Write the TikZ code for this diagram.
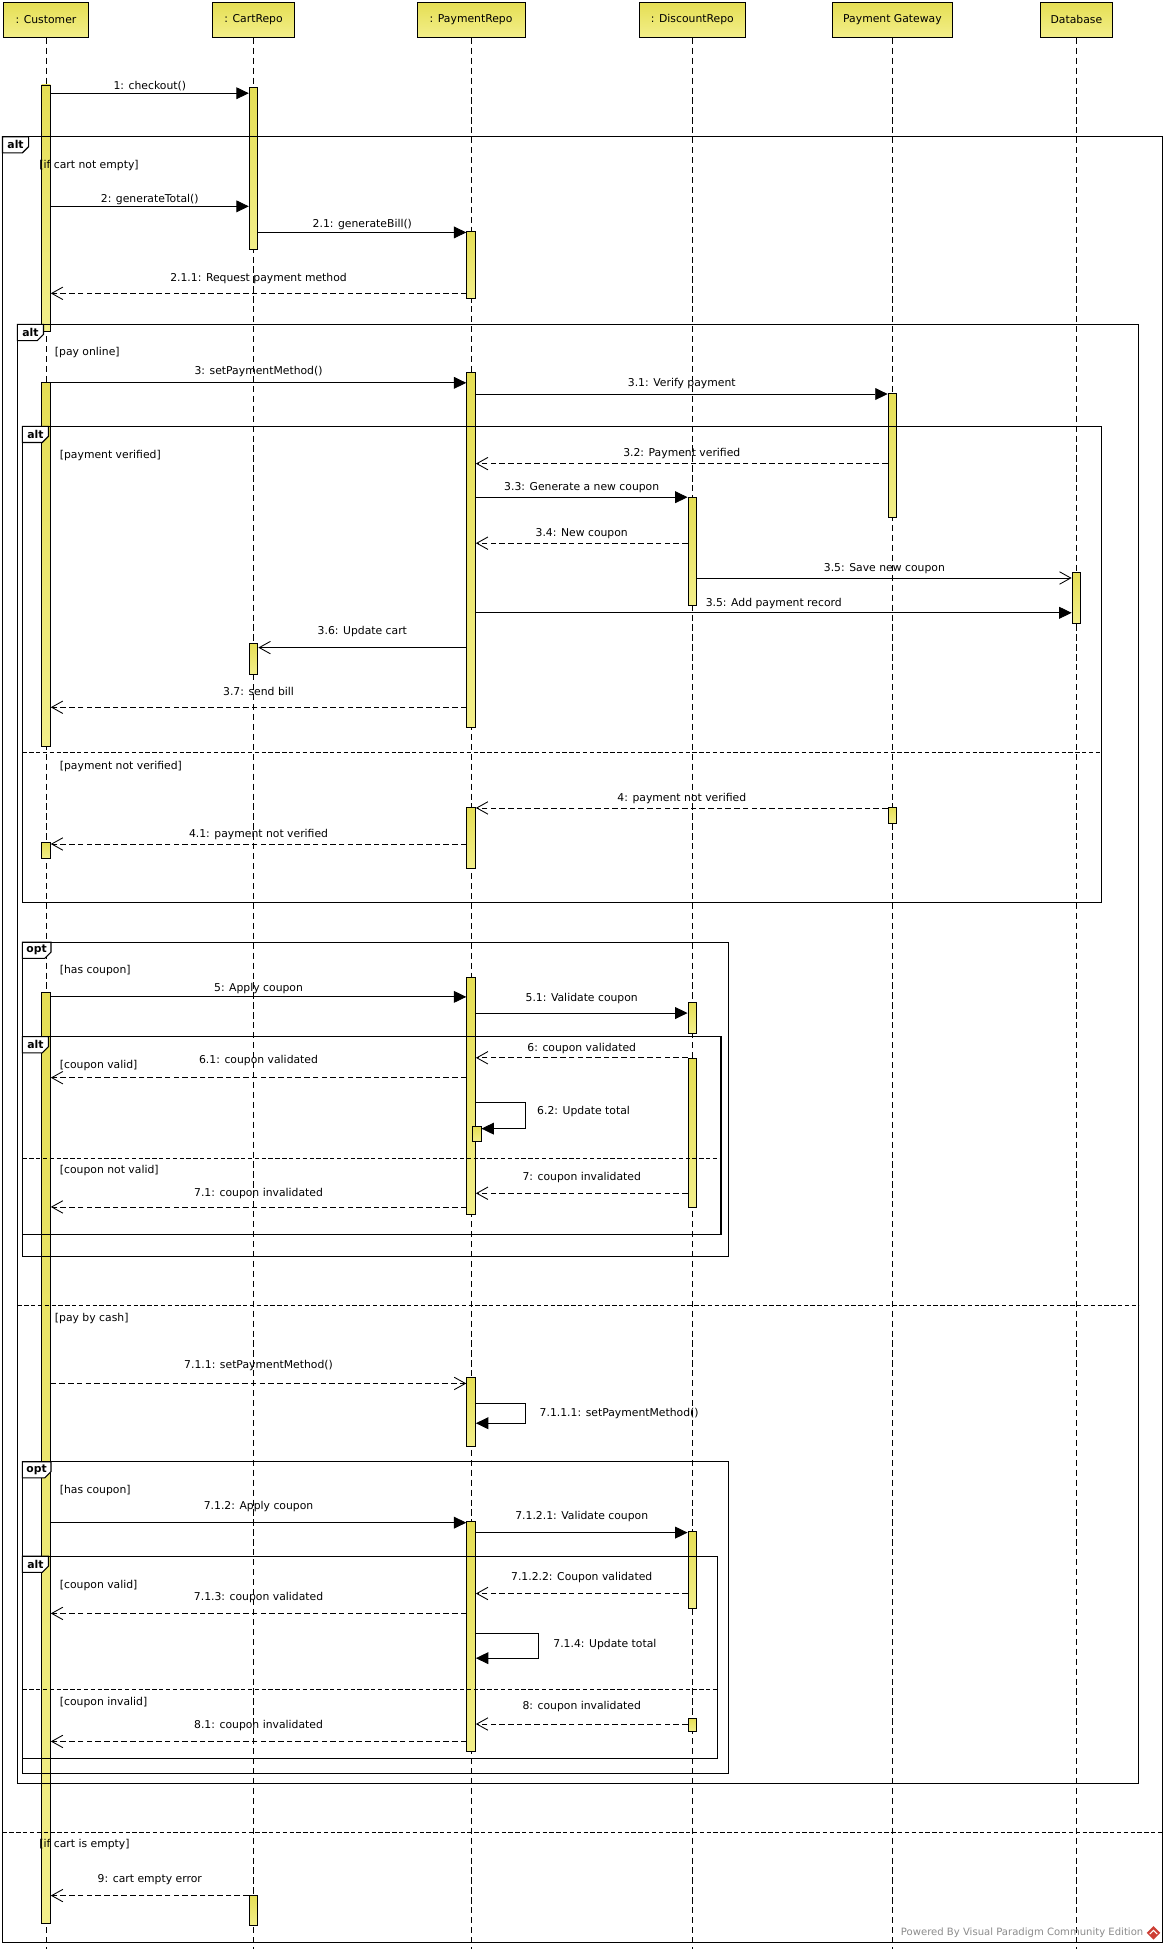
\documentclass[tikz,border=0pt]{standalone}
\usepackage{fontspec}
\setmainfont{DejaVu Sans}
\usetikzlibrary{arrows.meta}

\definecolor{vpyellow}{RGB}{229,222,84}
\definecolor{vplight}{RGB}{243,239,138}
\definecolor{vpgray}{RGB}{140,140,140}
\definecolor{vpred}{RGB}{205,62,52}

\begin{document}
\begin{tikzpicture}[x=1pt,y=-1pt,font=\fontsize{8.7}{10}\selectfont,
    head/.style={draw,line width=0.8pt,top color=vpyellow,bottom color=vplight,
                 minimum height=28pt,inner sep=0pt},
    bar/.style={draw,line width=0.7pt,top color=vpyellow,bottom color=vplight,
                minimum width=7pt,inner sep=0pt,anchor=north},
    life/.style={line width=0.6pt,dash pattern=on 5pt off 3pt},
    frame/.style={draw,line width=0.9pt},
    tab/.style={font=\bfseries\fontsize{8.7}{10}\selectfont,inner sep=0pt},
    sep/.style={line width=0.8pt,dash pattern=on 3.5pt off 2pt},
    guard/.style={anchor=west,inner sep=0pt,text height=6.5pt,text depth=2pt},
    lbl/.style={above=#1,inner sep=1pt,text height=6.5pt,text depth=2pt},
    lbl/.default=2pt,
    sync/.style={line width=0.7pt,-{Triangle[length=10pt,width=9.5pt]}},
    async/.style={line width=0.7pt,-{Straight Barb[length=9pt,width=10pt]}},
    reply/.style={async,dash pattern=on 4.5pt off 2.5pt}]

\fill[white] (0,0) rectangle (938,1568);
\useasboundingbox (0,0) rectangle (938,1568);

% lifeline heads
\node[head,minimum width=69pt] (cust) at (37,16) {: Customer};
\node[head,minimum width=66pt] (cart) at (204,16) {: CartRepo};
\node[head,minimum width=87pt] (pay) at (379,16) {: PaymentRepo};
\node[head,minimum width=85pt] (disc) at (557,16) {: DiscountRepo};
\node[head,minimum width=96pt] (gate) at (718,16) {Payment Gateway};
\node[head,minimum width=58pt] (db) at (866,16) {Database};

\draw[life] (cust.south) -- (cust.south |- 0,1568);
\draw[life] (cart.south) -- (cart.south |- 0,1568);
\draw[life] (pay.south) -- (pay.south |- 0,1568);
\draw[life] (disc.south) -- (disc.south |- 0,1568);
\draw[life] (gate.south) -- (gate.south |- 0,1568);
\draw[life] (db.south) -- (db.south |- 0,1568);

% activations
\node[bar,minimum height=198pt] (c1) at (cust |- 0,68) {};
\node[bar,minimum height=130pt] (k1) at (cart |- 0,70) {};
\node[bar,minimum height=54pt] (p1) at (pay |- 0,186) {};
\node[bar,minimum height=293pt] (c2) at (cust |- 0,307) {};
\node[bar,minimum height=286pt] (p2) at (pay |- 0,299) {};
\node[bar,minimum height=100pt] (g1) at (gate |- 0,316) {};
\node[bar,minimum height=87pt] (d1) at (disc |- 0,400) {};
\node[bar,minimum height=41pt] (b1) at (db |- 0,460) {};
\node[bar,minimum height=25pt] (k2) at (cart |- 0,517) {};
\node[bar,minimum height=13pt] (g2) at (gate |- 0,649) {};
\node[bar,minimum height=49pt] (p3) at (pay |- 0,649) {};
\node[bar,minimum height=12.5pt] (c3) at (cust |- 0,677.5) {};
\node[bar,minimum height=749pt] (c4) at (cust |- 0,798) {};
\node[bar,minimum height=190.5pt] (p4) at (pay |- 0,786) {};
\node[bar,minimum height=25pt] (d2) at (disc |- 0,806) {};
\node[bar,minimum height=120pt] (d3) at (disc |- 0,851) {};
\node[bar,minimum height=12pt] (p5) at (383.5,906) {};
\node[bar,minimum height=55pt] (p6) at (pay |- 0,1108) {};
\node[bar,minimum height=185pt] (p7) at (pay |- 0,1224) {};
\node[bar,minimum height=62pt] (d4) at (disc |- 0,1232) {};
\node[bar,minimum height=10.5pt] (d5) at (disc |- 0,1382) {};
\node[bar,minimum height=24.5pt] (k3) at (cart |- 0,1524.5) {};

% combined fragments
\draw[frame] (2,110) rectangle (935,1563);
\draw[frame,fill=white] (2,110) -- (23,110) -- (23,118) -- (18,123) -- (2,123) -- cycle;
\node[tab] at (12.5,116.5) {alt};
\draw[sep] (2,1474) -- (935,1474);

\draw[frame] (14,261) rectangle (916,1435);
\draw[frame,fill=white] (14,261) -- (35,261) -- (35,269) -- (30,274) -- (14,274) -- cycle;
\node[tab] at (24.5,267.5) {alt};
\draw[sep] (14,1050) -- (916,1050);

\draw[frame] (18,343) rectangle (886,726);
\draw[frame,fill=white] (18,343) -- (39,343) -- (39,351) -- (34,356) -- (18,356) -- cycle;
\node[tab] at (28.5,349.5) {alt};
\draw[sep] (18,605.5) -- (886,605.5);

\draw[frame] (18,758) rectangle (586,1011);
\draw[frame,fill=white] (18,758) -- (41,758) -- (41,766) -- (36,771) -- (18,771) -- cycle;
\node[tab] at (29.5,764.5) {opt};

\draw[frame] (18,834) rectangle (580,993);
\draw[frame,fill=white] (18,834) -- (39,834) -- (39,842) -- (34,847) -- (18,847) -- cycle;
\node[tab] at (28.5,840.5) {alt};
\draw[sep] (18,932) -- (580,932);

\draw[frame] (18,1176) rectangle (586,1427);
\draw[frame,fill=white] (18,1176) -- (41,1176) -- (41,1184) -- (36,1189) -- (18,1189) -- cycle;
\node[tab] at (29.5,1182.5) {opt};

\draw[frame] (18,1252) rectangle (577,1415);
\draw[frame,fill=white] (18,1252) -- (39,1252) -- (39,1260) -- (34,1265) -- (18,1265) -- cycle;
\node[tab] at (28.5,1258.5) {alt};
\draw[sep] (18,1359.5) -- (577,1359.5);

% guards
\node[guard] (g-full) at (31.5,133) {[if cart not empty]};
\node[guard] (g-online) at (44,284) {[pay online]};
\node[guard] (g-ver) at (48,367) {[payment verified]};
\node[guard] (g-notver) at (48,617) {[payment not verified]};
\node[guard] (g-has1) at (48,781) {[has coupon]};
\node[guard] (g-valid1) at (48,857) {[coupon valid]};
\node[guard] (g-inval1) at (48,942) {[coupon not valid]};
\node[guard] (g-cash) at (44,1061) {[pay by cash]};
\node[guard] (g-has2) at (48,1199) {[has coupon]};
\node[guard] (g-valid2) at (48,1276) {[coupon valid]};
\node[guard] (g-inval2) at (48,1370) {[coupon invalid]};
\node[guard] (g-empty) at (31.5,1484) {[if cart is empty]};

% messages
\draw[sync] (c1.east |- 0,75) -- node[lbl=0pt] {1: checkout()} (k1.west |- 0,75);
\draw[sync] (c1.east |- 0,166) -- node[lbl=0pt] {2: generateTotal()} (k1.west |- 0,166);
\draw[sync] (k1.east |- 0,187) -- node[lbl=1pt] {2.1: generateBill()} (p1.west |- 0,187);
\draw[reply] (p1.west |- 0,236) -- node[lbl=6pt] {2.1.1: Request payment method} (c1.east |- 0,236);

\draw[sync] (c2.east |- 0,308) -- node[lbl=3pt] {3: setPaymentMethod()} (p2.west |- 0,308);
\draw[sync] (p2.east |- 0,317) -- node[lbl=2.5pt] {3.1: Verify payment} (g1.west |- 0,317);
\draw[reply] (g1.west |- 0,373) -- node[lbl] {3.2: Payment verified} (p2.east |- 0,373);
\draw[sync] (p2.east |- 0,400) -- node[lbl] {3.3: Generate a new coupon} (d1.west |- 0,400);
\draw[reply] (d1.west |- 0,437) -- node[lbl] {3.4: New coupon} (p2.east |- 0,437);
\draw[async] (d1.east |- 0,465) -- node[lbl] {3.5: Save new coupon} (b1.west |- 0,465);
\draw[sync] (p2.east |- 0,493) -- node[lbl] {3.5: Add payment record} (b1.west |- 0,493);
\draw[async] (p2.west |- 0,521) -- node[lbl=7pt] {3.6: Update cart} (k2.east |- 0,521);
\draw[reply] (p2.west |- 0,569) -- node[lbl=6pt] {3.7: send bill} (c2.east |- 0,569);

\draw[reply] (g2.west |- 0,650) -- node[lbl] {4: payment not verified} (p3.east |- 0,650);
\draw[reply] (p3.west |- 0,679) -- node[lbl] {4.1: payment not verified} (c3.east |- 0,679);

\draw[sync] (c4.east |- 0,802) -- node[lbl=1pt] {5: Apply coupon} (p4.west |- 0,802);
\draw[sync] (p4.east |- 0,815) -- node[lbl=6pt] {5.1: Validate coupon} (d2.west |- 0,815);
\draw[reply] (d3.west |- 0,851) -- node[lbl] {6: coupon validated} (p4.east |- 0,851);
\draw[reply] (p4.west |- 0,867) -- node[lbl=8pt] {6.1: coupon validated} (c4.east |- 0,867);
\draw[sync] (p4.east |- 0,887) -- ++(40,0) -- ++(0,21) -- (p5.east |- 0,908);
\node[guard] (m62) at (432,894.5) {6.2: Update total};
\draw[reply] (d3.west |- 0,960) -- node[lbl=7pt] {7: coupon invalidated} (p4.east |- 0,960);
\draw[reply] (p4.west |- 0,971) -- node[lbl=5pt] {7.1: coupon invalidated} (c4.east |- 0,971);

\draw[reply] (c4.east |- 0,1113) -- node[lbl=9pt] {7.1.1: setPaymentMethod()} (p6.west |- 0,1113);
\draw[sync] (p6.east |- 0,1129) -- ++(40,0) -- ++(0,16) -- (p6.east |- 0,1145);
\node[guard] (m7111) at (434,1137) {7.1.1.1: setPaymentMethod()};

\draw[sync] (c4.east |- 0,1225) -- node[lbl=7pt] {7.1.2: Apply coupon} (p7.west |- 0,1225);
\draw[sync] (p7.east |- 0,1233) -- node[lbl=7pt] {7.1.2.1: Validate coupon} (d4.west |- 0,1233);
\draw[reply] (d4.west |- 0,1282) -- node[lbl=7pt] {7.1.2.2: Coupon validated} (p7.east |- 0,1282);
\draw[reply] (p7.west |- 0,1298) -- node[lbl=7pt] {7.1.3: coupon validated} (c4.east |- 0,1298);
\draw[sync] (p7.east |- 0,1314) -- ++(50,0) -- ++(0,20) -- (p7.east |- 0,1334);
\node[guard] (m714) at (445,1323) {7.1.4: Update total};
\draw[reply] (d5.west |- 0,1387) -- node[lbl=8pt] {8: coupon invalidated} (p7.east |- 0,1387);
\draw[reply] (p7.west |- 0,1401) -- node[lbl=7pt] {8.1: coupon invalidated} (c4.east |- 0,1401);

\draw[reply] (k3.west |- 0,1525) -- node[lbl=7pt] {9: cart empty error} (c4.east |- 0,1525);

% watermark
\node[anchor=east,inner sep=0pt,text=vpgray,font=\fontsize{8.1}{9}\selectfont] (mark)
    at (920,1555) {Powered By Visual Paradigm Community Edition};
\fill[vpred] (928,1549.5) -- (933.5,1555) -- (928,1560.5) -- (922.5,1555) -- cycle;
\draw[white,line width=0.8pt] (925,1556) -- (928,1553) -- (931,1556);
\end{tikzpicture}
\end{document}
